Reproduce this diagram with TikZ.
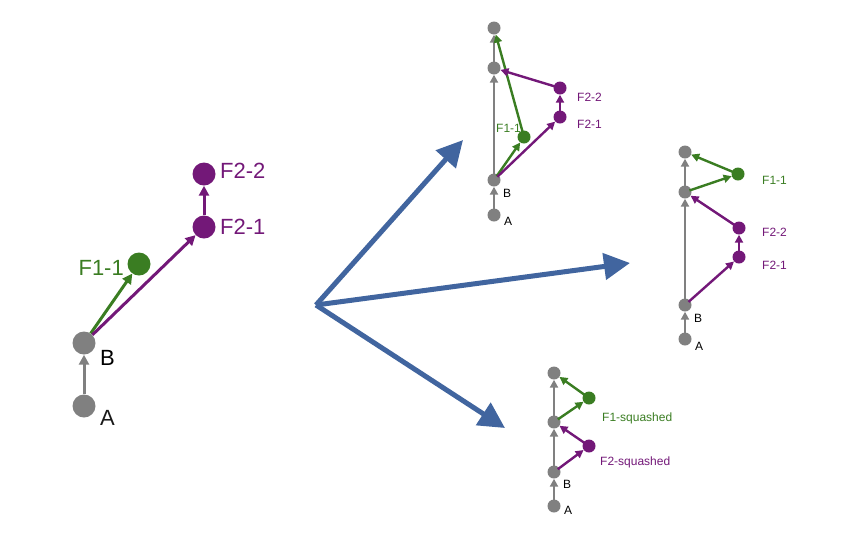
\documentclass[tikz,border=0pt]{standalone}
\usepackage{fontspec}
\setmainfont{Liberation Sans}
\usetikzlibrary{arrows.meta}
\definecolor{gr}{HTML}{808080}
\definecolor{gn}{HTML}{3A7D22}
\definecolor{pu}{HTML}{731878}
\definecolor{bl}{HTML}{41659F}
\tikzset{
 bign/.style={circle,fill=#1,minimum size=23pt,inner sep=0pt},
 smn/.style={circle,fill=#1,minimum size=13pt,inner sep=0pt},
 edge/.style={draw=#1,line width=2.4pt,-{Triangle[length=8pt,width=8pt]},shorten <=-2pt},
 bedge/.style={draw=#1,line width=3pt,-{Triangle[length=10pt,width=10pt]}},
 blue/.style={draw=bl,line width=5pt,-{Triangle[length=26pt,width=26pt]}},
 lab/.style={font=\fontsize{#1}{#1}\selectfont,inner sep=0pt,anchor=west}
}
\begin{document}
\begin{tikzpicture}[x=1pt,y=-1pt]
\useasboundingbox (0,0) rectangle (864,550);
% left
\node[bign=gr] (lA) at (84,406) {};
\node[bign=gr] (lB) at (84,343) {};
\node[bign=gn] (lF) at (139,264) {};
\node[bign=pu] (lP1) at (204,227) {};
\node[bign=pu] (lP2) at (204,174) {};
\draw[bedge=gr] (lA) -- (lB);
\draw[bedge=gn] (lB) -- (lF);
\draw[bedge=pu] (lB) -- (lP1);
\draw[bedge=pu] (lP1) -- (lP2);
\node[lab=22,text=gr!20!black] (tA) at (100,418) {A};
\node[lab=22,text=black] (tB) at (100,358) {B};
\node[lab=22,text=gn,anchor=east] (tF) at (124,268) {F1-1};
\node[lab=22,text=pu] (tP1) at (220,227) {F2-1};
\node[lab=22,text=pu] (tP2) at (220,171) {F2-2};
% blue arrows
\coordinate (o) at (316,305);
\coordinate (e1) at (463,140);
\coordinate (e2) at (630,263);
\coordinate (e3) at (505,428);
\draw[blue] (o) -- (e1);
\draw[blue] (o) -- (e2);
\draw[blue] (o) -- (e3);
% top middle
\node[smn=gr] (aA) at (494,215) {};
\node[smn=gr] (aB) at (494,180) {};
\node[smn=gr] (aC) at (494,68) {};
\node[smn=gr] (aD) at (494,28) {};
\node[smn=gn] (aF) at (524,137) {};
\node[smn=pu] (aP1) at (560,117) {};
\node[smn=pu] (aP2) at (560,88) {};
\draw[edge=gr] (aA) -- (aB);
\draw[edge=gr] (aB) -- (aC);
\draw[edge=gr] (aC) -- (aD);
\draw[edge=gn] (aB) -- (aF);
\draw[edge=gn] (aF) -- (aD);
\draw[edge=pu] (aB) -- (aP1);
\draw[edge=pu] (aP1) -- (aP2);
\draw[edge=pu] (aP2) -- (aC);
\node[lab=12] (taA) at (504,221) {A};
\node[lab=12] (taB) at (503,193) {B};
\node[lab=12,text=gn] (taF) at (496,128) {F1-1};
\node[lab=12,text=pu] (taP1) at (577,124) {F2-1};
\node[lab=12,text=pu] (taP2) at (577,97) {F2-2};
% right
\node[smn=gr] (bA) at (685,339) {};
\node[smn=gr] (bB) at (685,305) {};
\node[smn=gr] (bC) at (685,192) {};
\node[smn=gr] (bD) at (685,152) {};
\node[smn=gn] (bF) at (738,174) {};
\node[smn=pu] (bP1) at (739,257) {};
\node[smn=pu] (bP2) at (739,228) {};
\draw[edge=gr] (bA) -- (bB);
\draw[edge=gr] (bB) -- (bC);
\draw[edge=gr] (bC) -- (bD);
\draw[edge=gn] (bC) -- (bF);
\draw[edge=gn] (bF) -- (bD);
\draw[edge=pu] (bB) -- (bP1);
\draw[edge=pu] (bP1) -- (bP2);
\draw[edge=pu] (bP2) -- (bC);
\node[lab=12] (tbA) at (695,346) {A};
\node[lab=12] (tbB) at (694,318) {B};
\node[lab=12,text=gn] (tbF) at (762,180) {F1-1};
\node[lab=12,text=pu] (tbP2) at (762,232) {F2-2};
\node[lab=12,text=pu] (tbP1) at (762,265) {F2-1};
% bottom
\node[smn=gr] (cA) at (554,506) {};
\node[smn=gr] (cB) at (554,472) {};
\node[smn=gr] (cC) at (554,422) {};
\node[smn=gr] (cD) at (554,373) {};
\node[smn=gn] (cF) at (589,398) {};
\node[smn=pu] (cP) at (589,446) {};
\draw[edge=gr] (cA) -- (cB);
\draw[edge=gr] (cB) -- (cC);
\draw[edge=gr] (cC) -- (cD);
\draw[edge=gn] (cC) -- (cF);
\draw[edge=gn] (cF) -- (cD);
\draw[edge=pu] (cB) -- (cP);
\draw[edge=pu] (cP) -- (cC);
\node[lab=12] (tcA) at (564,510) {A};
\node[lab=12] (tcB) at (563,484) {B};
\node[lab=12,text=gn] (tcF) at (602,418) {F1-squashed};
\node[lab=12,text=pu] (tcP) at (600,462) {F2-squashed};
\end{tikzpicture}
\end{document}
